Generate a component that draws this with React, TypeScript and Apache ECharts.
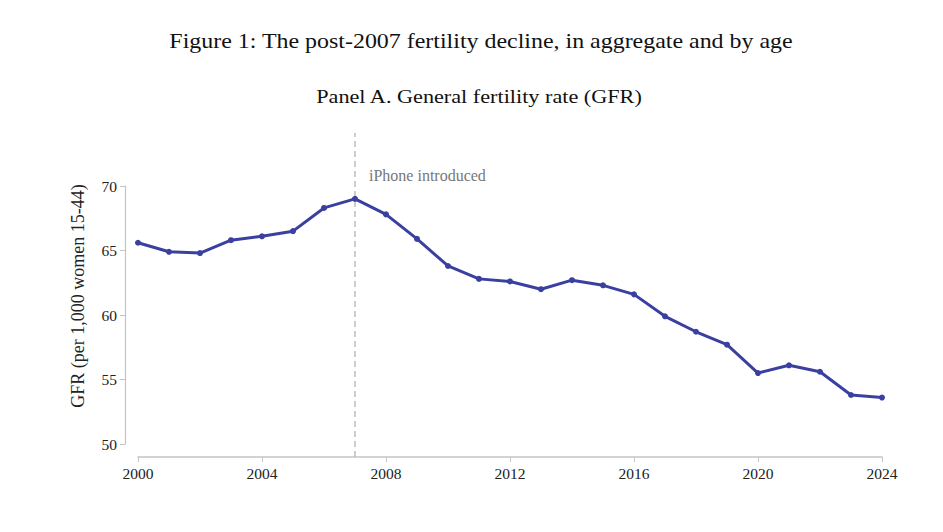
import React, { useEffect, useRef } from "react";
import * as echarts from "echarts";

const years = [2000, 2001, 2002, 2003, 2004, 2005, 2006, 2007, 2008, 2009, 2010, 2011, 2012, 2013, 2014, 2015, 2016, 2017, 2018, 2019, 2020, 2021, 2022, 2023, 2024];
const gfr = [65.6, 64.9, 64.8, 65.8, 66.1, 66.5, 68.3, 69.0, 67.8, 65.9, 63.8, 62.8, 62.6, 62.0, 62.7, 62.3, 61.6, 59.9, 58.7, 57.7, 55.5, 56.1, 55.6, 53.8, 53.6];
const xTicks = [2000, 2004, 2008, 2012, 2016, 2020, 2024];
const eventYear = 2007;
const eventLabel = "iPhone introduced";
const mainTitle = "Figure 1: The post-2007 fertility decline, in aggregate and by age";
const panelTitle = "Panel A. General fertility rate (GFR)";
const yName = "GFR (per 1,000 women 15-44)";

const SERIF = "'Liberation Serif', 'Times New Roman', serif";

export default function App() {
  const ref = useRef<HTMLDivElement>(null);
  useEffect(() => {
    if (!ref.current) return;
    const chart = echarts.init(ref.current, undefined, { renderer: "svg" });
    const axisGray = "#c4c4c4";
    chart.setOption({
      animation: false,
      backgroundColor: "#ffffff",
      graphic: [
        {
          type: "text",
          x: 481,
          y: 41,
          scaleX: 1.14,
          style: { text: mainTitle, font: `21px ${SERIF}`, fill: "#111", align: "center", verticalAlign: "middle" },
        },
        {
          type: "text",
          x: 479,
          y: 96,
          scaleX: 1.14,
          style: { text: panelTitle, font: `19.5px ${SERIF}`, fill: "#111", align: "center", verticalAlign: "middle" },
        },
        {
          type: "text",
          x: 369,
          y: 175,
          style: { text: eventLabel, font: `16px ${SERIF}`, fill: "#777", align: "left", verticalAlign: "middle" },
        },
        {
          type: "text",
          x: 78,
          y: 296,
          rotation: Math.PI / 2,
          style: { text: yName, font: `18px ${SERIF}`, fill: "#222", align: "center", verticalAlign: "middle" },
        },
      ],
      grid: [
        { left: 138, right: 61, top: 186, bottom: 88 },
        { left: 138, right: 61, top: 133, bottom: 75 },
      ],
      xAxis: [
        {
          type: "value",
          gridIndex: 0,
          min: 2000,
          max: 2024,
          interval: 4,
          offset: 13,
          axisLine: { show: true, lineStyle: { color: axisGray, width: 1.5 } },
          axisTick: { show: true, length: 5, lineStyle: { color: axisGray } },
          axisLabel: {
            margin: 8,
            fontFamily: SERIF,
            fontSize: 15.5,
            color: "#222",
            formatter: (v: number) => (xTicks.includes(v) ? String(v) : ""),
          },
          splitLine: { show: false },
        },
        {
          type: "value",
          gridIndex: 1,
          min: 2000,
          max: 2024,
          show: false,
        },
      ],
      yAxis: [
        {
          type: "value",
          gridIndex: 0,
          min: 50,
          max: 70,
          interval: 5,
          offset: 13,
          axisLine: { show: true, lineStyle: { color: axisGray, width: 1.2 } },
          axisTick: { show: true, length: 5, lineStyle: { color: axisGray } },
          axisLabel: { margin: 8, fontFamily: SERIF, fontSize: 15.5, color: "#222" },
          splitLine: { show: false },
        },
        {
          type: "value",
          gridIndex: 1,
          min: 0,
          max: 1,
          show: false,
        },
      ],
      series: [
        {
          type: "line",
          xAxisIndex: 1,
          yAxisIndex: 1,
          data: [
            [eventYear, 0],
            [eventYear, 1],
          ],
          symbol: "none",
          z: 1,
          lineStyle: { color: "#bdbdbd", width: 1.5, type: [6, 4] },
          silent: true,
        },
        {
          type: "line",
          xAxisIndex: 0,
          yAxisIndex: 0,
          data: years.map((y, i) => [y, gfr[i]]),
          symbol: "circle",
          symbolSize: 6,
          z: 5,
          lineStyle: { color: "#3a40a0", width: 3 },
          itemStyle: { color: "#3a40a0" },
        },
      ],
    });
    return () => chart.dispose();
  }, []);
  return <div ref={ref} style={{ position: "fixed", left: 0, top: 0, width: 943, height: 532 }} />;
}
